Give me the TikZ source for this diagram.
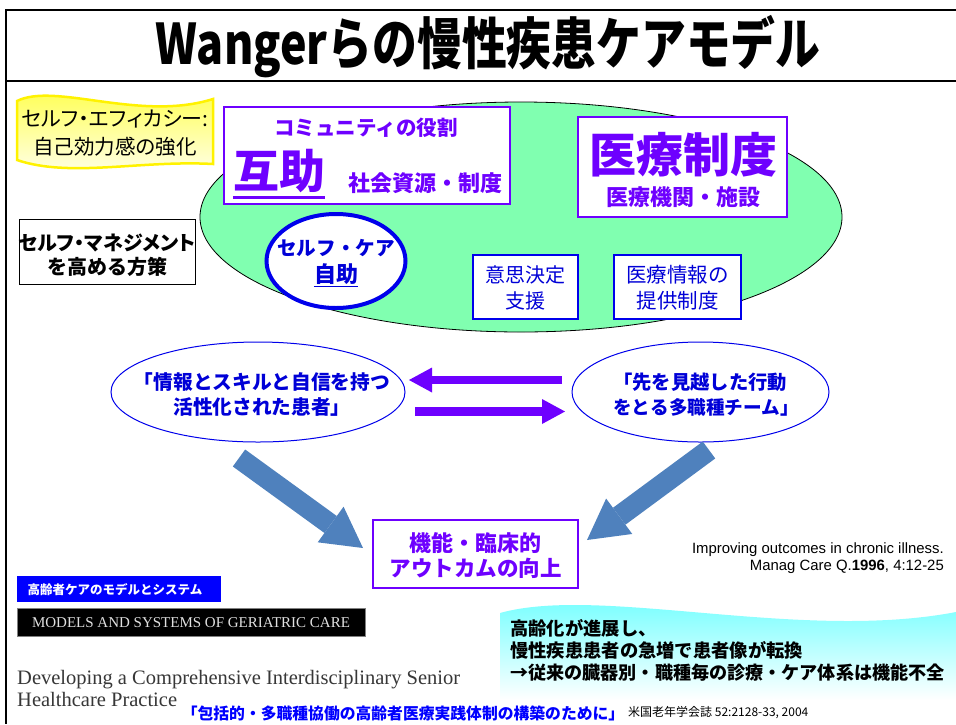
\documentclass[tikz,border=0pt]{standalone}
\usepackage{graphicx}
\usepackage{fontspec}
\setmainfont{Noto Sans CJK JP}
\newfontfamily\jpp{Noto Sans CJK JP}[RawFeature=+palt]
\newfontfamily\lsans{Liberation Sans}
\newfontfamily\lserif{Liberation Serif}
\usetikzlibrary{shapes.geometric,arrows.meta}
\definecolor{mypurple}{RGB}{110,0,255}
\definecolor{myblue}{RGB}{0,0,235}
\definecolor{txtblue}{RGB}{0,0,215}
\definecolor{mint}{RGB}{128,255,176}
\definecolor{steel}{RGB}{79,129,189}
\definecolor{cyanish}{RGB}{100,255,255}
\definecolor{banyellow}{RGB}{255,255,70}
\definecolor{darkgraytxt}{RGB}{55,55,55}
\newcommand{\fsz}[2]{\fontsize{#1}{#2}\selectfont}
\begin{document}
\begin{tikzpicture}[x=1pt,y=-1pt,
  pbox/.style={draw=mypurple, fill=white, line width=1.2pt, inner sep=0pt},
  bbox/.style={draw=myblue, fill=white, line width=1.2pt, inner sep=0pt},
  ptxt/.style={text=mypurple, inner sep=0pt},
  btxt/.style={text=txtblue, inner sep=0pt},
  ktxt/.style={text=black, inner sep=0pt},
  padd/.style={mypurple, line width=8.5pt, -{Triangle[length=23pt,width=25pt,line width=0pt]}},
  bigarr/.style={steel, line width=21pt, -{Triangle[length=40pt,width=44pt,line width=0pt]}}
]
\useasboundingbox (0,0) rectangle (956,724);
\fill[white] (0,0) rectangle (956,724);

% frame
\draw[line width=2.5pt] (956,10) -- (6,10) -- (6,724);
\draw[line width=1.5pt] (6,81) -- (956,81);

% title
\node[inner sep=0] (title) at (488,47) {\scalebox{0.8}[1]{\fsz{56}{60}\bfseries Wangerらの慢性疾患ケアモデル}};

% yellow banner
\shadedraw[top color=banyellow, bottom color=yellow!6, draw=yellow, line width=2.5pt]
  (17,101) .. controls (55,82) and (140,122) .. (213,99) -- (213,164)
  .. controls (140,160) and (70,178) .. (17,160) -- cycle;
\node[ktxt] (effi1) at (115,119) {\jpp\fsz{21}{24}セルフ・エフィカシー:};
\node[ktxt] (effi2) at (115,147) {\fsz{20.5}{24}自己効力感の強化};

% self-management box
\node[draw=black, fill=white, line width=1pt, inner sep=0, minimum width=176, minimum height=65] (mgmt) at (107,251.5) {};
\node[ktxt] (mg1) at (107,243) {\jpp\fsz{20}{24}\bfseries セルフ・マネジメント};
\node[ktxt] (mg2) at (107,267) {\fsz{20}{24}\bfseries を高める方策};

% green ellipse
\node[ellipse, draw=black, fill=mint, line width=0.8pt, inner sep=0, minimum width=642, minimum height=230] (green) at (521,217) {};

% community box
\node[pbox, minimum width=286, minimum height=97] (comm) at (367,155.5) {};
\node[ptxt] (comm1) at (366,128) {\fsz{20.5}{24}\bfseries コミュニティの役割};
\node[ptxt] (gojo) at (279,171) {\fsz{46}{50}\bfseries 互助};
\draw[mypurple, line width=2.8pt] ([yshift=-9pt]gojo.base west) -- ([yshift=-9pt]gojo.base east);
\node[ptxt] (comm2) at (425,183) {\fsz{22}{26}\bfseries 社会資源・制度};

% medical system box
\node[pbox, minimum width=209, minimum height=100] (med) at (682.5,167) {};
\node[ptxt] (med1) at (683,155) {\fsz{47}{50}\bfseries 医療制度};
\node[ptxt] (med2) at (683,197) {\fsz{22}{26}\bfseries 医療機関・施設};

% self-care ellipse
\node[ellipse, draw=myblue, line width=4pt, fill=white, inner sep=0, minimum width=139, minimum height=94] (self) at (336,261) {};
\node[btxt] (self1) at (336,248) {\fsz{19.6}{24}\bfseries セルフ・ケア};
\node[btxt] (self2) at (336,274) {\fsz{22}{24}\bfseries 自助};
\draw[txtblue, line width=1.5pt] ([yshift=-4pt]self2.base west) -- ([yshift=-4pt]self2.base east);

% decision / information boxes
\node[bbox, minimum width=105, minimum height=64] (dec) at (525.5,287) {};
\node[btxt] (dec1) at (525.5,275) {\fsz{20}{24}意思決定};
\node[btxt] (dec2) at (525.5,301) {\fsz{20}{24}支援};
\node[bbox, minimum width=127, minimum height=64] (info) at (677.5,287) {};
\node[btxt] (info1) at (677.5,275) {\fsz{20.5}{24}医療情報の};
\node[btxt] (info2) at (677.5,301) {\fsz{20.5}{24}提供制度};

% patient / team ellipses
\node[ellipse, draw=myblue, line width=1pt, fill=white, inner sep=0, minimum width=294, minimum height=100] (pat) at (258,392) {};
\node[btxt] (pat1) at (262,382) {\fsz{19.7}{24}\bfseries 「情報とスキルと自信を持つ};
\node[btxt] (pat2) at (262,407) {\fsz{19.7}{24}\bfseries 活性化された患者」};
\node[ellipse, draw=myblue, line width=1pt, fill=white, inner sep=0, minimum width=257, minimum height=100] (team) at (700.5,392) {};
\node[btxt, anchor=west] (team1) at (613,382) {\fsz{19.3}{24}\bfseries 「先を見越した行動};
\node[btxt, anchor=west] (team2) at (613,407) {\fsz{18.6}{24}\bfseries をとる多職種チーム」};

% purple arrows
\coordinate (pa1s) at (562,380);
\coordinate (pa1e) at (409,380);
\coordinate (pa2s) at (415,411.5);
\coordinate (pa2e) at (565,411.5);
\draw[padd] (pa1s) -- (pa1e);
\draw[padd] (pa2s) -- (pa2e);

% outcome box
\node[pbox, minimum width=205, minimum height=68] (outc) at (475.5,554) {};
\node[ptxt] (outc1) at (475.5,543) {\fsz{22}{26}\bfseries 機能・臨床的};
\node[ptxt] (outc2) at (475.5,568) {\fsz{21.5}{26}\bfseries アウトカムの向上};

% big blue arrows
\coordinate (ba1s) at (239,458);
\coordinate (ba1e) at (363,548);
\coordinate (ba2s) at (709,450);
\coordinate (ba2e) at (587,540);
\draw[bigarr] (ba1s) -- (ba1e);
\draw[bigarr] (ba2s) -- (ba2e);

% citation
\node[ktxt, anchor=east] (cit1) at (944,550) {\lsans\fsz{14.9}{17}Improving outcomes in chronic illness.};
\node[ktxt, anchor=east] (cit2) at (944,567) {\lsans\fsz{14.9}{17}Manag Care Q.\textbf{1996}, 4:12-25};

% bottom left boxes
\node[fill=blue, inner sep=0, minimum width=204, minimum height=26] (jpbook) at (119,589) {};
\node[text=white, inner sep=0] (jpbookt) at (115,590) {\fsz{12.5}{15}\bfseries 高齢者ケアのモデルとシステム};
\node[fill=black, draw=gray, line width=0.8pt, inner sep=0, minimum width=348, minimum height=28] (enbook) at (191,622) {};
\node[text=white!88!black, inner sep=0] (enbookt) at (191,622.5) {\lserif\fsz{15}{17}MODELS AND SYSTEMS OF GERIATRIC CARE};
\node[text=darkgraytxt, anchor=base west, inner sep=0] (dev1) at (17,684) {\lserif\fsz{20.5}{22}Developing a Comprehensive Interdisciplinary Senior};
\node[text=darkgraytxt, anchor=base west, inner sep=0] (dev2) at (17,706) {\lserif\fsz{20.5}{22}Healthcare Practice};
\node[text=blue, inner sep=0] (jptitle) at (403,713) {\fsz{15.8}{18}\bfseries 「包括的・多職種協働の高齢者医療実践体制の構築のために」};
\node[ktxt, anchor=west] (jags) at (628,713) {\fsz{12}{14}米国老年学会誌 52:2128-33, 2004};

% cyan banner
\shade[top color=cyanish, bottom color=white]
  (500,613) .. controls (600,585) and (800,642) .. (956,612) -- (956,700) -- (500,700) -- cycle;
\node[ktxt, anchor=west] (cy1) at (510,628) {\fsz{18.3}{22}\bfseries 高齢化が進展し、};
\node[ktxt, anchor=west] (cy2) at (510,650.5) {\fsz{18.3}{22}\bfseries 慢性疾患患者の急増で患者像が転換};
\node[ktxt, anchor=west] (cy3) at (510,673) {\fsz{18.1}{22}\bfseries →従来の臓器別・職種毎の診療・ケア体系は機能不全};
\end{tikzpicture}
\end{document}
